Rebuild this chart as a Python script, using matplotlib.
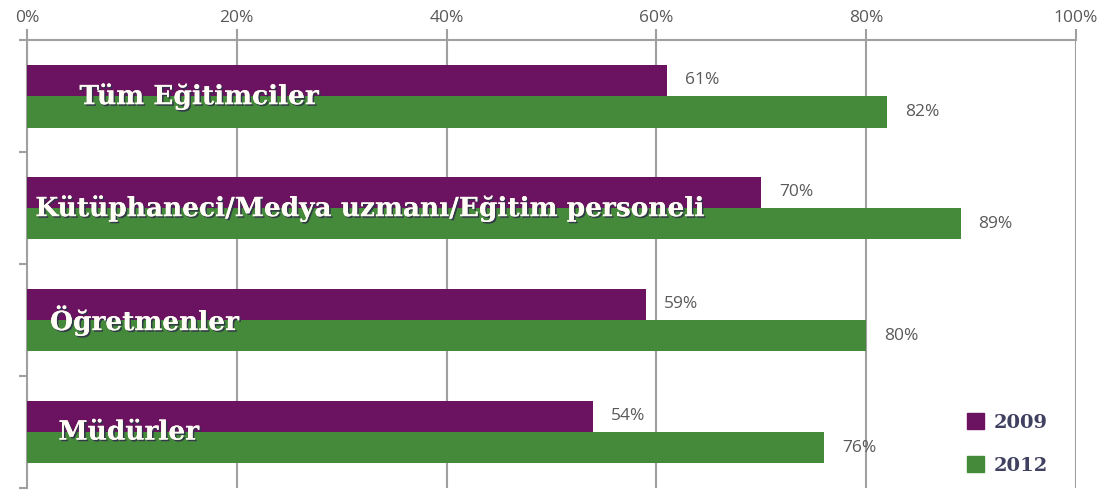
import numpy as np
import matplotlib.pyplot as plt
import matplotlib.patheffects as pe
from matplotlib.patches import Patch

categories = ["Tüm Eğitimciler", "Kütüphaneci/Medya uzmanı/Eğitim personeli",
              "Öğretmenler", "Müdürler"]
vals_2009 = [61, 70, 59, 54]
vals_2012 = [82, 89, 80, 76]
label_x = [5.0, 0.8, 2.2, 3.0]

purple = "#6B1360"
green = "#448A3A"
grey_txt = "#595959"

fig = plt.figure(figsize=(11.19, 4.90), dpi=100)
ax = fig.add_axes([0.0241, 0.004, 0.9375, 0.914])

y = np.arange(len(categories))
h = 0.28
ax.barh(y - 0.14, vals_2009, height=h, color=purple, zorder=3)
ax.barh(y + 0.14, vals_2012, height=h, color=green, zorder=3)

for i in range(len(categories)):
    ax.text(vals_2009[i] + 1.7, y[i] - 0.14, f"{vals_2009[i]}%", va="center", ha="left",
            fontsize=12.5, color=grey_txt, family="Open Sans")
    ax.text(vals_2012[i] + 1.7, y[i] + 0.14, f"{vals_2012[i]}%", va="center", ha="left",
            fontsize=12.5, color=grey_txt, family="Open Sans")
    ax.text(label_x[i], y[i], categories[i], va="center", ha="left", fontsize=19,
            fontweight="bold", family="DejaVu Serif", color="#FFFDF5", zorder=5,
            path_effects=[pe.withSimplePatchShadow(offset=(1.2, -1.2), shadow_rgbFace="#30304a", alpha=0.9),
                          pe.Normal()])

ax.set_xlim(0, 100)
ax.set_ylim(3.5, -0.5)
ax.xaxis.tick_top()
ax.set_xticks(np.arange(0, 101, 20))
ax.set_xticklabels([f"{v}%" for v in range(0, 101, 20)], fontsize=12.5, color=grey_txt, family="Open Sans")
ax.set_yticks([-0.5, 0.5, 1.5, 2.5, 3.5])
ax.set_yticklabels([])
ax.tick_params(axis="x", length=8, width=1.5, color="#A0A0A0", pad=2)
ax.tick_params(axis="y", length=6, width=1.5, color="#A0A0A0")
ax.grid(axis="x", color="#A0A0A0", linewidth=1.5, zorder=0)
for s in ["right", "bottom"]:
    ax.spines[s].set_visible(False)
for s in ["top", "left"]:
    ax.spines[s].set_color("#A0A0A0")
    ax.spines[s].set_linewidth(1.5)

handles = [Patch(color=purple), Patch(color=green)]
leg = ax.legend(handles, ["2009", "2012"], loc="lower right", bbox_to_anchor=(0.99, -0.01),
                frameon=False, handlelength=0.9, handleheight=0.9, handletextpad=0.5,
                labelspacing=1.25, prop={"family": "DejaVu Serif", "weight": "bold", "size": 14})
for t in leg.get_texts():
    t.set_color("#404060")

fig.savefig("out.png", dpi=100)
